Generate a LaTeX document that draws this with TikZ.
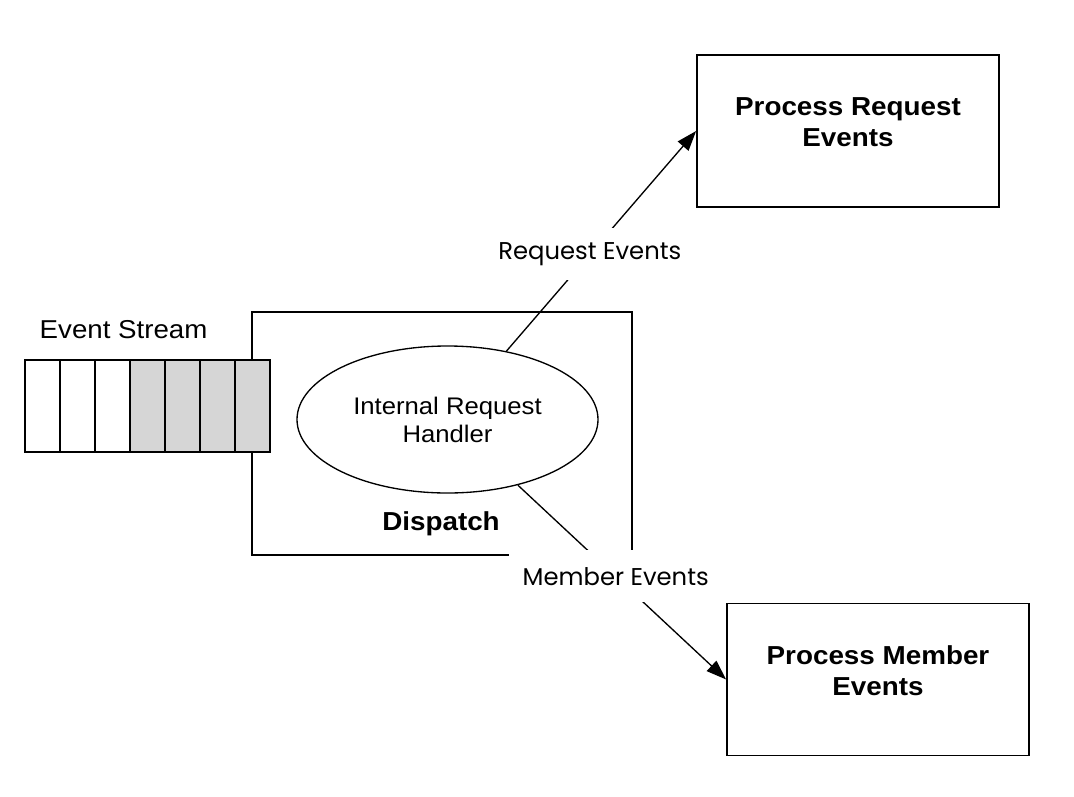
\documentclass[tikz,border=0pt]{standalone}
\usepackage{fontspec}
\setmainfont{Liberation Sans}[FakeStretch=1.07]
\newfontfamily\gothicfont{Poppins}
\usetikzlibrary{shapes.geometric,arrows.meta}

\begin{document}
\begin{tikzpicture}[x=0.75pt, y=-0.75pt, >={Triangle[length=15pt,width=10.5pt]}]
  \tikzstyle{cell}=[draw, line width=1.3pt, rectangle, minimum width=26.25pt, minimum height=69pt, inner sep=0pt]
  \tikzstyle{busycell}=[cell, fill=black!16]
  \tikzstyle{procbox}=[draw, line width=1.3pt, rectangle, align=center, minimum width=226.5pt, minimum height=114pt, text depth=13pt, font=\fontsize{19.5}{23}\selectfont\bfseries]
  \tikzstyle{evlabel}=[fill=white, inner xsep=10pt, minimum height=39pt, font=\gothicfont\fontsize{18.2}{21}\selectfont]

  \useasboundingbox (0,0) rectangle (1074,796);

  \node[draw, line width=1.3pt, rectangle, minimum width=285pt, minimum height=182.25pt] (Dispatch) at (442,433.5) {};

  \node[font=\fontsize{19.5}{23}\selectfont\bfseries] (DispatchName) at (441,524) {Dispatch};

  \node[anchor=base west, font=\fontsize{19.4}{22}\selectfont] (StreamName) at (35,338) {Event Stream};

  \node[cell] (Cell1) at (42.5,406) {};
  \node[cell] (Cell2) at (77.5,406) {};
  \node[cell] (Cell3) at (112.5,406) {};
  \node[busycell] (Cell4) at (147.5,406) {};
  \node[busycell] (Cell5) at (182.5,406) {};
  \node[busycell] (Cell6) at (217.5,406) {};
  \node[busycell] (Cell7) at (252.5,406) {};

  \node[draw, ellipse, line width=1pt, minimum width=225.75pt, minimum height=110.25pt, inner sep=0pt, align=center, font=\fontsize{18}{21}\selectfont] (Handler) at (447.5,419.5) {Internal Request\\Handler};

  \node[procbox] (ProcRequest) at (848,131) {Process Request\\Events};

  \node[procbox] (ProcMember) at (878,679.5) {Process Member\\Events};

  \draw[->, line width=1pt] (Handler) -- node[evlabel, pos=0.44] (RequestLabel) {Request Events} (ProcRequest.west);
  \draw[->, line width=1pt] (Handler) -- node[evlabel, pos=0.47] (MemberLabel) {Member Events} (ProcMember.west);

\end{tikzpicture}
\end{document}
